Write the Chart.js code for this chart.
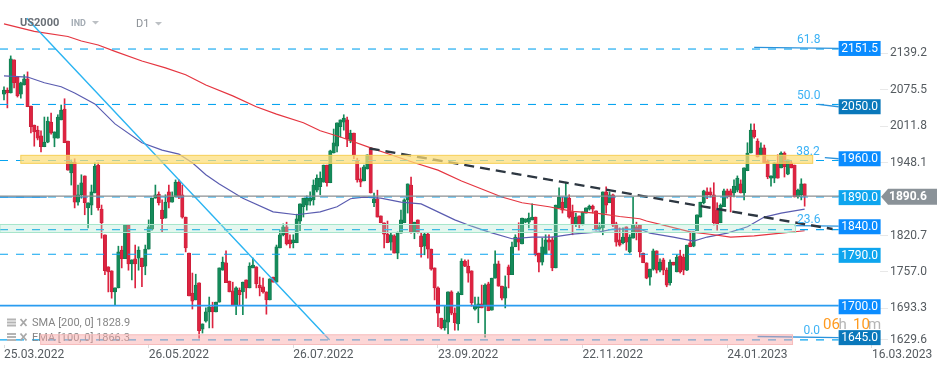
<!DOCTYPE html>
<html>
<head>
<meta charset="utf-8">
<title>US2000 D1</title>
<script src="https://cdn.jsdelivr.net/npm/chart.js@4"></script>
<style>
    html, body { margin: 0; padding: 0; background: #fff; }
    canvas { display: block; }
</style>
</head>
<body>
<canvas id="chart" width="949" height="370"></canvas>
<script>
// Candles, one entry per trading day
const opens = [
    2068,2075,2070,2128,2098,2068,2084,2095,2047,2014,
    2005,1995,1976,1984,2019,1991,1991,2023,2042,1986,
    1930,1949,1879,1892,1925,1869,1874,1895,1944,1867,
    1822,1766,1759,1722,1729,1795,1780,1839,1771,1780,
    1781,1781,1767,1797,1832,1886,1893,1865,1851,1897,
    1879,1888,1914,1892,1853,1790,1720,1708,1738,1657,
    1671,1687,1696,1687,1704,1760,1773,1741,1724,1699,
    1725,1722,1743,1729,1764,1766,1734,1731,1722,1708,
    1748,1739,1799,1822,1836,1813,1808,1808,1846,1871,
    1874,1881,1883,1900,1906,1914,1944,1913,1965,1977,
    2011,2019,2023,1986,2000,1951,1920,1916,1937,1974,
    1878,1885,1855,1843,1823,1809,1820,1790,1825,1843,
    1883,1909,1827,1848,1820,1802,1823,1797,1764,1729,
    1676,1659,1669,1722,1685,1666,1717,1776,1767,1759,
    1692,1694,1701,1697,1736,1690,1746,1771,1732,1711,
    1766,1752,1801,1816,1806,1844,1844,1848,1853,1790,
    1774,1788,1813,1813,1764,1869,1879,1869,1886,1862,
    1841,1855,1841,1860,1867,1872,1864,1832,1834,1897,
    1878,1892,1841,1813,1808,1836,1792,1816,1836,1839,
    1790,1773,1748,1762,1794,1760,1778,1760,1738,1774,
    1757,1785,1783,1760,1808,1802,1829,1853,1878,1897,
    1897,1892,1865,1843,1871,1899,1899,1895,1900,1911,
    1895,1934,1965,2005,1986,1962,1974,1951,1921,1921,
    1948,1939,1965,1928,1948,1944,1888,1892,1911
];
const closes = [
    2075,2070,2130,2088,2065,2088,2095,2046,2011,2002,
    1991,1976,1984,2021,2000,2002,2028,2040,1983,1935,
    1949,1879,1892,1913,1878,1878,1897,1942,1869,1843,
    1759,1757,1722,1729,1792,1780,1839,1771,1778,1771,
    1795,1766,1797,1836,1886,1892,1878,1850,1879,1879,
    1888,1914,1888,1853,1799,1715,1706,1734,1654,1666,
    1687,1696,1687,1704,1764,1774,1738,1722,1699,1729,
    1717,1739,1729,1767,1769,1736,1729,1722,1708,1745,
    1739,1801,1822,1836,1806,1806,1813,1850,1876,1886,
    1886,1886,1909,1921,1921,1944,1913,1969,1983,2018,
    2023,2026,1990,2000,1962,1918,1914,1941,1962,1895,
    1885,1853,1843,1823,1808,1822,1790,1825,1848,1883,
    1911,1827,1844,1827,1801,1823,1797,1762,1729,1685,
    1659,1673,1722,1685,1668,1720,1776,1767,1755,1703,
    1697,1701,1694,1734,1689,1746,1771,1732,1711,1731,
    1752,1801,1818,1809,1851,1850,1851,1853,1787,1774,
    1801,1813,1809,1764,1874,1888,1865,1888,1853,1841,
    1853,1841,1862,1869,1872,1867,1832,1836,1897,1874,
    1892,1839,1809,1804,1818,1809,1818,1839,1827,1792,
    1773,1746,1762,1794,1760,1774,1760,1734,1774,1769,
    1783,1757,1760,1804,1801,1827,1857,1879,1899,1892,
    1892,1843,1841,1874,1899,1888,1888,1907,1921,1895,
    1939,1965,2005,1993,1958,1974,1948,1923,1925,1948,
    1921,1965,1941,1953,1939,1888,1900,1911,1890
];
const highs = [
    2081,2079,2135,2128,2098,2089,2102,2107,2047,2014,
    2012,2004,2028,2028,2035,2002,2032,2049,2060,1986,
    1953,1955,1909,1927,1925,1878,1909,1948,1948,1874,
    1822,1766,1759,1729,1802,1802,1839,1839,1778,1804,
    1801,1781,1804,1848,1886,1909,1897,1883,1892,1909,
    1897,1918,1918,1909,1853,1790,1755,1753,1738,1666,
    1694,1713,1704,1704,1764,1783,1794,1741,1739,1731,
    1729,1739,1743,1773,1781,1766,1748,1746,1722,1745,
    1748,1804,1830,1841,1844,1822,1822,1858,1876,1886,
    1890,1897,1918,1927,1932,1944,1944,1970,2007,2018,
    2023,2032,2028,2005,2000,1956,1939,1944,1962,1974,
    1895,1900,1855,1843,1846,1825,1822,1827,1865,1885,
    1911,1923,1844,1848,1825,1825,1825,1797,1764,1731,
    1676,1697,1722,1724,1694,1722,1780,1778,1778,1759,
    1713,1713,1734,1736,1739,1746,1794,1776,1732,1750,
    1769,1809,1822,1843,1851,1850,1860,1876,1853,1790,
    1816,1822,1822,1818,1874,1904,1888,1914,1892,1874,
    1860,1855,1862,1869,1874,1874,1864,1843,1897,1906,
    1897,1893,1844,1834,1834,1836,1822,1888,1844,1839,
    1790,1773,1762,1797,1794,1780,1781,1764,1778,1774,
    1787,1795,1788,1804,1827,1827,1857,1879,1900,1904,
    1904,1913,1878,1876,1902,1902,1902,1918,1925,1918,
    1939,1983,2016,2016,1990,1983,1979,1953,1925,1948,
    1962,1967,1967,1953,1951,1944,1902,1920,1911
];
const lows = [
    2058,2044,2070,2079,2063,2061,2084,2046,2000,1977,
    1988,1967,1976,1983,1998,1976,1991,2023,1983,1935,
    1909,1869,1874,1886,1857,1834,1857,1895,1865,1816,
    1752,1722,1711,1699,1729,1764,1780,1760,1743,1729,
    1760,1731,1752,1797,1830,1886,1874,1827,1851,1869,
    1879,1888,1885,1851,1792,1715,1692,1708,1641,1650,
    1669,1659,1659,1687,1704,1760,1738,1722,1699,1682,
    1699,1682,1711,1729,1764,1729,1715,1720,1683,1708,
    1739,1739,1799,1820,1804,1799,1799,1808,1829,1853,
    1865,1874,1874,1897,1892,1914,1907,1913,1965,1967,
    1993,2005,1976,1983,1955,1914,1906,1916,1937,1895,
    1871,1853,1843,1799,1808,1795,1790,1780,1825,1843,
    1860,1825,1815,1825,1783,1787,1781,1760,1708,1661,
    1657,1655,1648,1682,1655,1655,1717,1766,1739,1697,
    1690,1668,1694,1643,1689,1690,1746,1732,1708,1694,
    1729,1752,1801,1795,1806,1843,1834,1848,1785,1757,
    1769,1788,1795,1759,1764,1869,1860,1869,1851,1822,
    1836,1834,1839,1860,1865,1860,1830,1830,1822,1860,
    1878,1836,1802,1802,1806,1795,1790,1816,1813,1783,
    1773,1745,1734,1760,1755,1757,1752,1731,1734,1769,
    1757,1755,1752,1759,1801,1801,1829,1853,1876,1885,
    1888,1839,1830,1843,1871,1886,1862,1888,1897,1895,
    1883,1934,1965,1991,1958,1962,1948,1920,1907,1913,
    1921,1939,1923,1927,1939,1888,1886,1883,1872
];

// SMA and EMA at these day numbers
const smaDays = [0,9,19,23,28,33,41,48,54,60,68,75,81,89,94,100,109,115,122,129,136,142,148,154,162,169,176,183,189,191,196,204,211,216,223,231,238];
const smaValues = [2191,2178,2169,2161,2154,2143,2126,2114,2102,2084,2065,2046,2033,2018,2004,1993,1974,1962,1948,1935,1916,1902,1888,1878,1871,1863,1860,1854,1850,1846,1839,1827,1822,1818,1820,1825,1829];
const emaDays = [0,7,12,17,21,27,33,41,47,52,56,60,64,71,80,87,94,99,103,107,112,118,124,129,134,139,144,151,157,163,169,177,181,189,192,199,205,209,215,221,226,231,238];
const emaValues = [2100,2098,2088,2081,2070,2051,2016,1983,1970,1963,1948,1927,1911,1886,1862,1857,1862,1871,1885,1888,1886,1879,1876,1862,1848,1837,1827,1815,1818,1818,1823,1827,1832,1832,1825,1818,1811,1818,1825,1836,1853,1860,1867];

// Axis ticks
const xTickDays = [0,43,86,129,172,215,258];
const xTickLabels = ['25.03.2022','26.05.2022','26.07.2022','23.09.2022','22.11.2022','24.01.2023','16.03.2023'];
const yTickLabels = ['2139.2','2075.5','2011.8','1948.1','1820.7','1757.0','1693.3','1629.6'];
const yTickValues = [2139.2,2075.5,2011.8,1948.1,1820.7,1757.0,1693.3,1638.6];

// Horizontal levels: where the line sits, where its box sits, what the box says
const levelLines = [2147,2050,1952,1888,1831,1788,1698,1638];
const levelBoxes = [2148,2046,1955,1887,1836,1786,1696,1642];
const levelLabels = ['2151.5','2050.0','1960.0','1890.0','1840.0','1790.0','1700.0','1645.0'];
const levelColors = ['#0a8cff','#0a78bb','#0a8cff','#0ea5ee','#0a8cff','#0ea5ee','#0a8cff','#0a78bb'];
const currentPrice = 1890.6;

// Fibonacci labels and the short lines that run into the boxes
const fibLabels = ['61.8','50.0','38.2','23.6','0.0'];
const fibDays = [239.2,239.2,239,239.2,240.1];
const fibPrices = [2162,2065,1967,1848,1654];
const linkStartDays = [223,242,244,235,224];
const linkStartPrices = [2150,2050,1957,1838,1644];
const linkEndPrices = [2148,2046,1955,1837,1642];

// Shaded zones: first day, last day, top, bottom
const zoneFrom = [5,-1.2,10.9];
const zoneTo = [240.4,235.3,234.4];
const zoneTop = [1961,1840,1647];
const zoneBottom = [1947,1826,1630];
const zoneFill = ['rgba(252,222,120,0.72)','rgba(170,230,205,0.32)','rgba(248,170,170,0.48)'];
const zoneEdge = ['#f6cf55','#a6e6cb','#f6bcbc'];

// Trend lines: first day/price, last day/price
const blackTrendDays = [108.7,246.3];
const blackTrendPrices = [1973,1832];
const blueTrendDays = [6.75,96.8];
const blueTrendPrices = [2201,1638];

const X_MIN = -1.19;
const X_MAX = 260.4;
const BOX_DAY = 248.1;
const GREEN = '#148a5a';
const RED = '#dd2340';

const candleDays = opens.map((_, i) => i);
const candleColors = opens.map((o, i) => closes[i] >= o ? GREEN : RED);
const candleEdges = opens.map((o, i) => closes[i] >= o ? '#0d7549' : '#c21c36');

// Short helper for the straight lines
function straightLine(xs, ys, color, width, dash, order) {
    return {
        type: 'line',
        data: xs.map((x, i) => ({ x: x, y: ys[i] })),
        borderColor: color,
        borderWidth: width,
        borderDash: dash || [],
        pointRadius: 0,
        tension: 0,
        order: order
    };
}

const levelDatasets = levelLines.map((price, i) => {
    const solid = levelLabels[i] === '1700.0';
    return straightLine([X_MIN, BOX_DAY], [price, price], solid ? '#2a9cf0' : '#08a4f0', solid ? 1.6 : 1.1, solid ? [] : [8, 8], 8);
});

const linkDatasets = linkStartDays.map((day, i) => {
    return straightLine([day, BOX_DAY], [linkStartPrices[i], linkEndPrices[i]], '#2a93dc', 1.3, [], 7);
});

// The scales must fill the canvas, labels hanging past the ends are fine here
function noPadding(axis) {
    axis.paddingLeft = 0;
    axis.paddingRight = 0;
    axis.paddingTop = 0;
    axis.paddingBottom = 0;
}

// Zones, boxes and all the text that sits on top of the candles
const overlayPlugin = {
    id: 'overlay',
    afterDatasetsDraw(chart) {
        const c = chart.ctx;
        const x = chart.scales.x;
        const y = chart.scales.y;

        // indicator legend goes under the zones
        c.textBaseline = 'middle';
        c.textAlign = 'left';
        c.font = '11px Roboto';
        [['SMA [200, 0] 1828.9', 323.5], ['EMA [100, 0] 1866.3', 338]].forEach(row => {
            c.fillStyle = '#858585';
            c.fillText(row[0], 32, row[1]);
            c.fillStyle = '#b4b4b4';
            c.fillRect(7, row[1] - 5, 9, 2);
            c.fillRect(7, row[1] - 2, 9, 2);
            c.fillRect(7, row[1] + 1, 9, 2);
            c.strokeStyle = '#a8a8a8';
            c.lineWidth = 1.8;
            c.beginPath();
            c.moveTo(20.5, row[1] - 4.5);
            c.lineTo(26.5, row[1] + 2.5);
            c.moveTo(26.5, row[1] - 4.5);
            c.lineTo(20.5, row[1] + 2.5);
            c.stroke();
        });

        zoneFrom.forEach((from, i) => {
            const left = x.getPixelForValue(from);
            const top = y.getPixelForValue(zoneTop[i]);
            const w = x.getPixelForValue(zoneTo[i]) - left;
            const h = y.getPixelForValue(zoneBottom[i]) - top;
            c.fillStyle = zoneFill[i];
            c.fillRect(left, top, w, h);
            c.strokeStyle = zoneEdge[i];
            c.lineWidth = 1;
            c.strokeRect(left, top, w, h);
        });

        // current price line runs over everything
        c.strokeStyle = '#8b8f92';
        c.lineWidth = 1.2;
        c.beginPath();
        c.moveTo(x.left, y.getPixelForValue(currentPrice - 1));
        c.lineTo(x.right, y.getPixelForValue(currentPrice - 1));
        c.stroke();

        c.textAlign = 'center';
        c.font = '12px Roboto';
        fibLabels.forEach((label, i) => {
            c.fillStyle = '#3cb2f5';
            c.fillText(label, x.getPixelForValue(fibDays[i]), y.getPixelForValue(fibPrices[i]));
        });

        const boxLeft = x.getPixelForValue(BOX_DAY);
        levelLabels.forEach((label, i) => {
            const mid = y.getPixelForValue(levelBoxes[i]);
            c.fillStyle = levelColors[i];
            c.fillRect(boxLeft, mid - 7.5, 42, 15);
            c.fillStyle = '#fff';
            c.fillText(label, boxLeft + 21, mid + 0.5);
        });

        // grey tag with the current price
        const tagMid = y.getPixelForValue(currentPrice - 2);
        c.fillStyle = '#8a9298';
        c.beginPath();
        c.moveTo(881, tagMid);
        c.lineTo(888, tagMid - 8);
        c.lineTo(937, tagMid - 8);
        c.lineTo(937, tagMid + 8);
        c.lineTo(888, tagMid + 8);
        c.closePath();
        c.fill();
        c.fillStyle = '#fff';
        c.font = 'bold 12px Roboto';
        c.fillText(currentPrice.toFixed(1), 908, tagMid + 0.5);

        // header
        c.textAlign = 'left';
        c.fillStyle = '#6a7077';
        c.font = 'bold 11px Roboto';
        c.fillText('US2000', 20, 23.5);
        c.fillStyle = '#a4acb4';
        c.font = 'bold 9px Roboto';
        c.fillText('IND', 71, 24);
        c.fillStyle = '#8b9096';
        c.font = '11px Roboto';
        c.fillText('D1', 136, 24);
        c.fillStyle = '#bcc0c4';
        [[92, 21], [155, 22]].forEach(p => {
            c.beginPath();
            c.moveTo(p[0], p[1]);
            c.lineTo(p[0] + 7, p[1]);
            c.lineTo(p[0] + 3.5, p[1] + 3.5);
            c.closePath();
            c.fill();
        });

        // candle countdown
        c.font = '15px Roboto';
        [['06', 823, '#ff9a1f'], ['h', 838.5, '#b5b5b5'], ['10', 853, '#ff9a1f'], ['m', 868, '#b5b5b5']].forEach(part => {
            c.fillStyle = part[2];
            c.fillText(part[0], part[1], 325);
        });
    }
};

new Chart(document.getElementById('chart'), {
    type: 'bar',
    data: {
        datasets: [
            {
                // wicks
                data: candleDays.map(i => ({ x: i, y: [lows[i], highs[i]] })),
                backgroundColor: candleColors,
                barThickness: 1,
                grouped: false,
                order: 12
            },
            {
                // bodies
                data: candleDays.map(i => ({ x: i, y: [opens[i], closes[i]] })),
                backgroundColor: candleColors,
                borderColor: candleEdges,
                borderWidth: 0.6,
                borderSkipped: false,
                barThickness: 3.4,
                grouped: false,
                order: 11
            },
            straightLine(smaDays, smaValues, '#e53540', 1.2, [], 9),
            straightLine(emaDays, emaValues, '#5a5cb0', 1.2, [], 9),
            ...levelDatasets,
            ...linkDatasets,
            straightLine([X_MIN, 12.7], [1888, 1888], '#1e96e8', 1.2, [], 7),
            straightLine(blueTrendDays, blueTrendPrices, '#2ab4f2', 1.4, [], 6),
            straightLine(blackTrendDays, blackTrendPrices, '#2d3741', 2.4, [10, 6], 5)
        ]
    },
    options: {
        responsive: false,
        animation: false,
        layout: { padding: 0, autoPadding: false },
        plugins: { legend: { display: false }, tooltip: { enabled: false } },
        scales: {
            x: {
                type: 'linear',
                offset: false,
                min: X_MIN,
                max: X_MAX,
                border: { display: false },
                grid: { offset: false, drawOnChartArea: false, drawTicks: true, tickLength: 3, color: '#dcdcdc' },
                afterBuildTicks: axis => { axis.ticks = xTickDays.map(v => ({ value: v })); },
                afterFit: axis => { axis.height = 25; noPadding(axis); },
                ticks: {
                    autoSkip: false,
                    maxRotation: 0,
                    align: 'start',
                    padding: 0,
                    color: '#555b60',
                    font: { family: 'Roboto', size: 12 },
                    callback: (value) => xTickLabels[xTickDays.indexOf(value)]
                }
            },
            y: {
                position: 'right',
                min: 1629.1,
                max: 2232.8,
                border: { display: false },
                grid: { drawOnChartArea: false, drawTicks: true, tickLength: 8, color: '#e8e8e8' },
                afterBuildTicks: axis => { axis.ticks = yTickValues.map(v => ({ value: v })); },
                afterFit: axis => { axis.width = 69; noPadding(axis); },
                ticks: {
                    autoSkip: false,
                    padding: 2,
                    color: '#555b60',
                    font: { family: 'Roboto', size: 12 },
                    callback: (value) => yTickLabels[yTickValues.indexOf(value)]
                }
            }
        }
    },
    plugins: [overlayPlugin]
});
</script>
</body>
</html>
